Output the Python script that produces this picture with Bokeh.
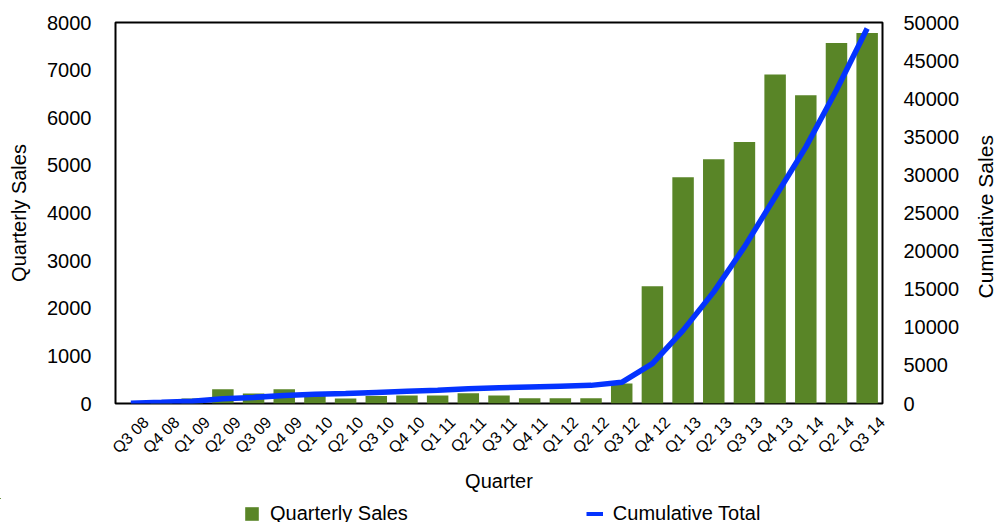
import math
from bokeh.plotting import figure
from bokeh.layouts import row, column
from bokeh.models import (Range1d, LinearAxis, FixedTicker, CustomJSTickFormatter,
                          NumeralTickFormatter, Legend, LegendItem, ColumnDataSource, Label)
from bokeh.embed import file_html
from bokeh.resources import INLINE

quarters = ["Q3 08", "Q4 08", "Q1 09", "Q2 09", "Q3 09", "Q4 09", "Q1 10", "Q2 10", "Q3 10",
            "Q4 10", "Q1 11", "Q2 11", "Q3 11", "Q4 11", "Q1 12", "Q2 12", "Q3 12", "Q4 12",
            "Q1 13", "Q2 13", "Q3 13", "Q4 13", "Q1 14", "Q2 14", "Q3 14"]
quarterly_sales = [0, 30, 105, 300, 210, 300, 170, 105, 160, 170, 170, 215, 170, 110, 110, 110,
                   420, 2460, 4750, 5130, 5490, 6910, 6470, 7570, 7780]
cumulative_total = [40, 150, 300, 610, 800, 1050, 1200, 1300, 1450, 1600, 1750, 1950, 2080,
                    2180, 2280, 2380, 2780, 5230, 9600, 14650, 20550, 27100, 33650, 41150, 49200]
left_ticks = [0, 1000, 2000, 3000, 4000, 5000, 6000, 7000, 8000]
right_ticks = [0, 5000, 10000, 15000, 20000, 25000, 30000, 35000, 40000, 45000, 50000]

FONT = "Liberation Sans"
GREEN = "#598527"
BLUE = "#0433FF"

idx = list(range(len(quarters)))
src = ColumnDataSource(dict(i=idx, q=quarters, sales=quarterly_sales, cum=cumulative_total))

def bare(fig):
    fig.xaxis.visible = False
    fig.yaxis.visible = False
    fig.xgrid.visible = False
    fig.ygrid.visible = False
    fig.outline_line_color = None
    fig.min_border_left = fig.min_border_right = 0
    fig.min_border_top = fig.min_border_bottom = 0

# ---------------- main chart ----------------
p = figure(width=973, height=498, x_range=Range1d(-0.5, len(quarters) - 0.5),
           y_range=Range1d(0, 8000),
           output_backend="svg", toolbar_location=None, x_axis_location=None,
           y_axis_location=None)
p.min_border_left = 115
p.min_border_right = 91
p.min_border_top = 22
p.min_border_bottom = 95
p.xgrid.visible = False
p.ygrid.visible = False
p.outline_line_color = "black"
p.outline_line_width = 2
p.outline_line_alpha = 1

p.extra_y_ranges = {"cum": Range1d(0, 50000)}

bars = p.vbar(x="i", top="sales", width=0.7, source=src, fill_color=GREEN, line_color=None)
line = p.line(x="i", y="cum", source=src, y_range_name="cum", line_color=BLUE, line_width=5.5)

def style(ax):
    ax.major_tick_out = 0
    ax.major_tick_in = 0
    ax.minor_tick_out = 0
    ax.minor_tick_in = 0
    ax.axis_line_color = None
    ax.major_label_text_font = FONT
    ax.major_label_text_color = "black"
    ax.axis_label_text_font = FONT
    ax.axis_label_text_color = "black"
    ax.axis_label_text_font_style = "normal"
    ax.axis_label_text_font_size = "20px"

yl = LinearAxis(ticker=FixedTicker(ticks=left_ticks), formatter=NumeralTickFormatter(format="0"),
                axis_label="Quarterly Sales")
style(yl)
yl.major_label_text_font_size = "20px"
yl.major_label_standoff = 24
yl.axis_label_standoff = 14
p.add_layout(yl, "left")

yr = LinearAxis(y_range_name="cum", ticker=FixedTicker(ticks=right_ticks),
                formatter=NumeralTickFormatter(format="0"))
style(yr)
yr.major_label_text_font_size = "20px"
yr.major_label_standoff = 21
p.add_layout(yr, "right")

# tick labels are centred under each bar (their anchor is shifted by half a rotated label)
shift = 0.49
xa = LinearAxis(ticker=FixedTicker(ticks=[i + shift for i in idx]),
                formatter=CustomJSTickFormatter(args=dict(labels=quarters, shift=shift),
                                                code="return labels[Math.round(tick - shift)] || '';"),
                axis_label="Quarter")
style(xa)
xa.major_label_text_font_size = "16px"
xa.major_label_orientation = math.pi / 4
xa.major_label_standoff = 16
xa.axis_label_standoff = 5
p.add_layout(xa, "below")

# ---------------- right-hand axis title (reads bottom-to-top) ----------------
pr = figure(width=24, height=498, x_range=Range1d(0, 1), y_range=Range1d(0, 1),
            output_backend="svg", toolbar_location=None)
bare(pr)
pr.min_border_top = 22
pr.min_border_bottom = 95
pr.add_layout(Label(x=0.5, y=0.49, text="Cumulative Sales", angle=math.pi / 2,
                    text_align="center", text_baseline="middle", text_font=FONT,
                    text_font_size="21px", text_color="black"))

# ---------------- legend strip ----------------
# the same data, viewed through empty ranges, only to give the legend its swatches
n = len(quarters)
pl = figure(width=997, height=24, x_range=Range1d(n + 10, n + 11),
            y_range=Range1d(-2, -1), output_backend="svg", toolbar_location=None)
bare(pl)
pl.extra_y_ranges = {"cum": Range1d(-2, -1)}
key_bar = pl.vbar(x="i", top="sales", width=0.7, source=src, fill_color=GREEN, line_color=None)
key_line = pl.line(x="i", y="cum", source=src, y_range_name="cum", line_color=BLUE, line_width=4)
legend = Legend(items=[LegendItem(label="Quarterly Sales", renderers=[key_bar]),
                       LegendItem(label="Cumulative Total", renderers=[key_line])],
                orientation="horizontal", location=(243, -3),
                label_text_font=FONT, label_text_font_size="20px", label_text_color="black",
                glyph_width=17, glyph_height=17, label_height=17, label_standoff=10, spacing=178,
                padding=0, margin=0, border_line_color=None, background_fill_alpha=0)
pl.add_layout(legend, "center")

layout = column(row(p, pr, spacing=0), pl, spacing=0)
open("out.html", "w").write(file_html(layout, INLINE))
